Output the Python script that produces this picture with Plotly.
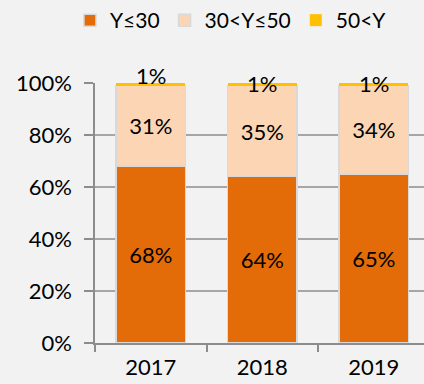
import plotly.graph_objects as go

years = ["2017", "2018", "2019"]
series_names = ["Y≤30", "30<Y≤50", "50<Y"]
low = [68, 64, 65]
mid = [31, 35, 34]
high = [1, 1, 1]
y_ticks = [0, 20, 40, 60, 80, 100]
y_tick_text = [f"{t}%" for t in y_ticks]

colors = ["#E36C09", "#FCD5B5", "#FFC000"]
FONT = "Lato"
FS = 22

fig = go.Figure()
for name, vals, col in zip(series_names[:2], [low, mid], colors[:2]):
    fig.add_trace(go.Bar(
        x=years, y=vals, name=name,
        marker=dict(color=col, line=dict(color="#d9d9d9", width=1.5)),
        text=[f"{v}%" for v in vals], textposition="inside",
        insidetextanchor="middle", constraintext="none",
        textfont=dict(family=FONT, size=FS, color="black"),
        width=0.62,
    ))
fig.add_trace(go.Bar(
    x=years, y=high, name=series_names[2],
    marker=dict(color=colors[2], line=dict(color="#d9d9d9", width=0)),
    width=0.62, hoverinfo="skip",
))

# labels for the thin top segment, placed at the top of each stack
totals = [a + b + c for a, b, c in zip(low, mid, high)]
shifts = [8, 0, 0]
for i, (tot, v, s) in enumerate(zip(totals, high, shifts)):
    fig.add_annotation(x=i, y=tot, xref="x", yref="y", text=f"{v}%",
                       showarrow=False, yshift=s, yanchor="middle",
                       font=dict(family=FONT, size=FS, color="black"))

fig.update_layout(
    barmode="stack",
    width=424, height=384,
    margin=dict(l=95, r=0, t=83, b=41),
    paper_bgcolor="#f2f2f2", plot_bgcolor="#f2f2f2",
    font=dict(family=FONT, size=FS, color="black"),
    legend=dict(orientation="h", xref="container", yref="container",
                x=0.165, y=1.0, xanchor="left", yanchor="top",
                font=dict(family=FONT, size=21), traceorder="normal",
                itemwidth=30),
    showlegend=True,
)
fig.update_xaxes(
    type="category", range=[-0.5, 2.45],
    tickson="boundaries", ticks="outside", ticklen=7, tickcolor="#8c8c8c",
    tickwidth=1.5, ticklabelstandoff=4,
    showline=True, linecolor="#8c8c8c", linewidth=1.5, showgrid=False,
    tickfont=dict(family=FONT, size=FS),
)
fig.update_yaxes(
    range=[0, 100], tickvals=y_ticks, ticktext=y_tick_text,
    ticks="outside", ticklen=9, tickcolor="#8c8c8c", tickwidth=1.5,
    ticklabelstandoff=8,
    showline=True, linecolor="#8c8c8c", linewidth=1.5,
    showgrid=True, gridcolor="#a6a6a6", gridwidth=1.5,
    zeroline=False,
    tickfont=dict(family=FONT, size=FS),
)

fig.write_html("out.html")
